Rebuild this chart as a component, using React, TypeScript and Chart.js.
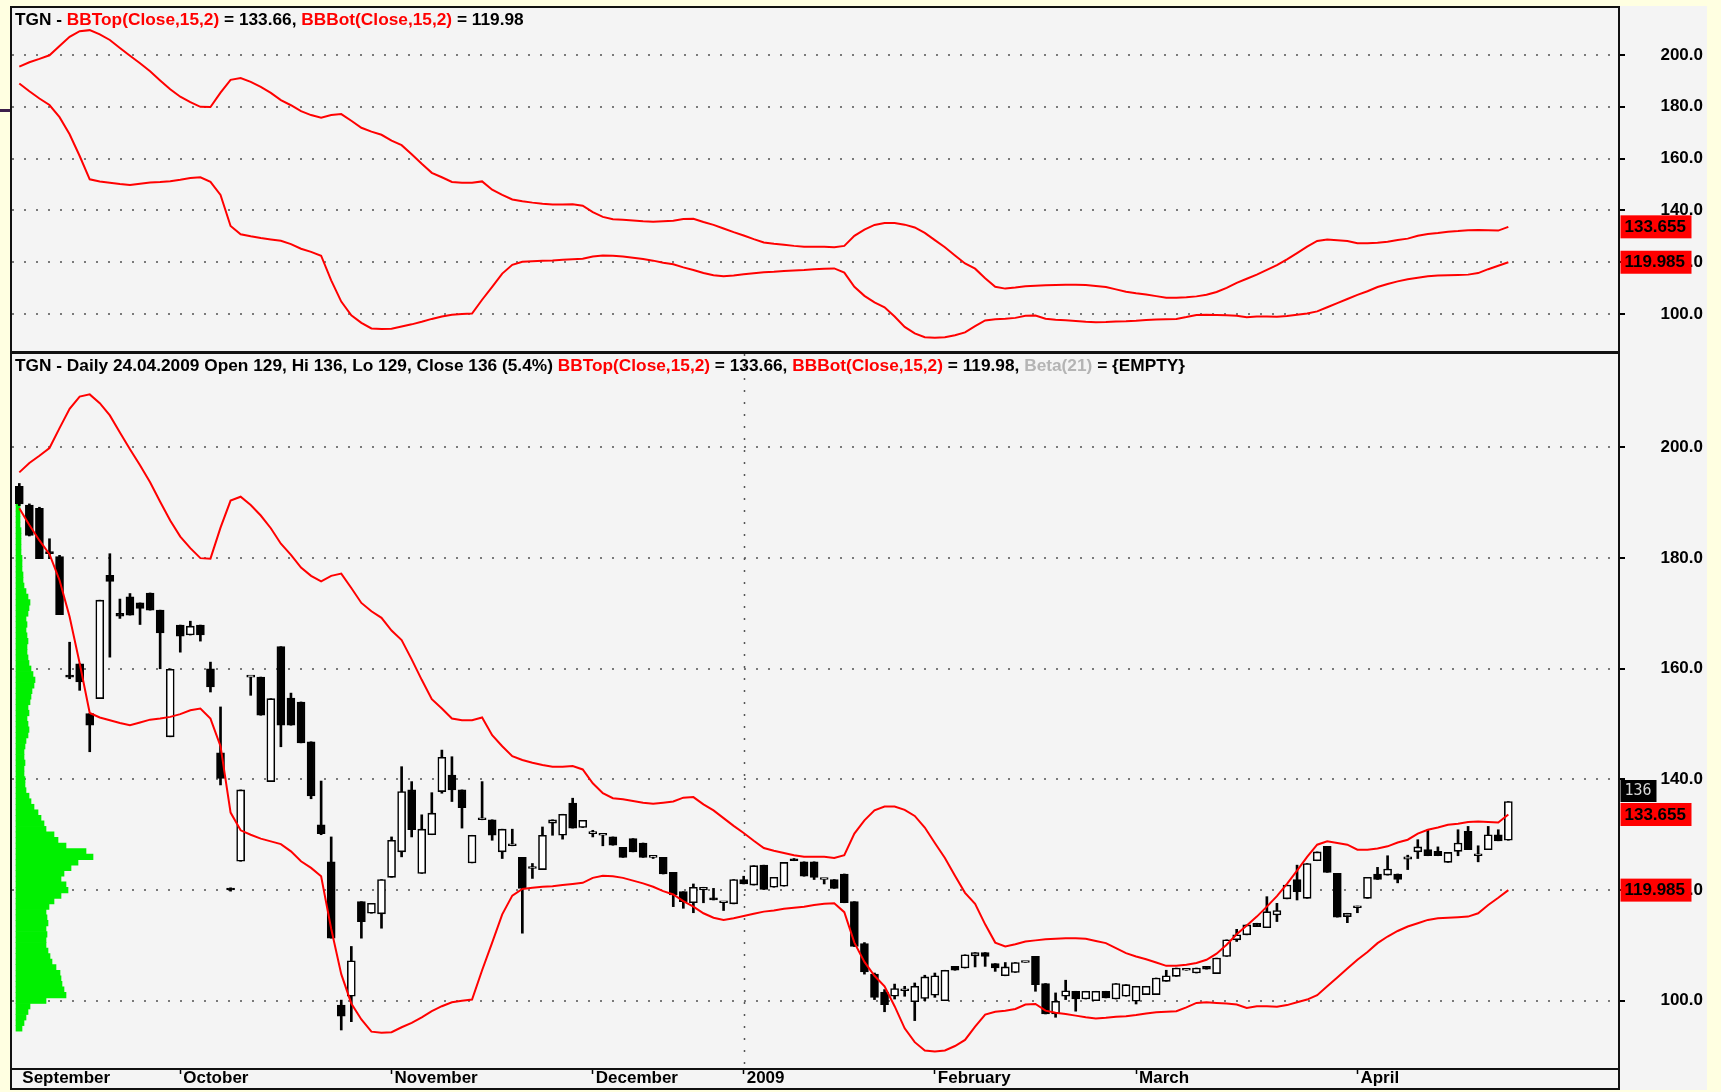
import React, { useEffect, useRef } from 'react';
import { Chart, registerables } from 'chart.js';

Chart.register(...registerables);

const FAM = '"Liberation Sans", Arial, Helvetica, sans-serif';

// ---- daily candles (bar index 0 = first bar in September 2008) ----
const opens = [
  193.0, 189.6, 189.0, 181.1, 180.3, 158.8, 160.9, 151.9, 154.6, 176.9,
  170.0, 173.0, 171.9, 173.7, 170.6, 147.7, 167.9, 166.1, 167.9, 160.0,
  144.8, 120.2, 125.2, 158.5, 158.5, 139.6, 164.0, 154.7, 154.0, 146.8,
  131.8, 125.1, 99.2, 100.8, 117.9, 115.8, 115.7, 122.3, 126.9, 138.1,
  123.0, 130.0, 137.8, 140.8, 138.1, 124.9, 132.7, 132.7, 126.9, 128.0,
  125.9, 123.9, 123.7, 132.1, 129.9, 135.7, 131.3, 130.2, 129.9, 129.6,
  127.7, 129.3, 128.5, 125.9, 125.9, 123.2, 119.7, 117.7, 120.0, 118.6,
  117.7, 117.5, 121.9, 120.9, 124.5, 120.5, 120.7, 125.5, 125.1, 125.1,
  121.9, 121.9, 122.9, 117.9, 110.3, 104.8, 101.5, 100.8, 101.8, 99.8,
  100.4, 101.0, 100.0, 106.2, 105.9, 108.1, 108.7, 106.7, 104.5, 105.1,
  106.9, 108.0, 103.1, 97.6, 100.8, 101.7, 100.3, 100.0, 101.7, 100.3,
  100.8, 99.9, 101.1, 101.1, 103.5, 104.4, 105.5, 105.0, 106.2, 104.9,
  108.0, 111.0, 111.9, 114.0, 113.2, 115.5, 118.4, 121.9, 118.5, 125.3,
  127.9, 123.0, 115.2, 116.8, 118.5, 122.9, 122.7, 122.9, 125.6, 126.9,
  127.3, 127.0, 125.0, 127.0, 130.6, 126.2, 127.3, 130.0, 129.0,
];
const highs = [
  193.5, 189.8, 189.2, 183.5, 180.5, 164.8, 160.9, 151.9, 172.4, 180.8,
  172.6, 173.6, 171.9, 173.7, 170.6, 160.0, 167.9, 168.6, 167.9, 161.2,
  153.1, 120.4, 138.1, 158.5, 158.5, 154.6, 164.0, 155.6, 154.0, 146.8,
  139.7, 129.6, 100.1, 109.8, 117.9, 117.6, 121.9, 129.6, 142.3, 139.6,
  133.6, 137.6, 145.3, 144.1, 138.1, 129.9, 139.6, 132.7, 131.0, 131.0,
  125.9, 124.8, 131.4, 132.7, 133.7, 136.6, 132.6, 130.8, 129.9, 129.6,
  127.7, 129.3, 128.5, 126.1, 125.9, 123.2, 119.7, 121.1, 120.5, 120.3,
  117.7, 121.9, 122.5, 124.4, 124.5, 122.3, 125.0, 125.7, 125.1, 125.1,
  121.9, 121.9, 122.9, 117.9, 110.5, 105.0, 102.0, 103.0, 102.6, 103.2,
  104.6, 105.0, 105.5, 106.2, 108.3, 108.7, 108.7, 106.7, 106.9, 106.9,
  106.9, 108.0, 103.1, 101.4, 103.7, 101.7, 101.7, 101.7, 101.7, 103.1,
  102.9, 102.6, 102.6, 104.1, 105.5, 105.9, 105.5, 105.9, 106.2, 107.7,
  111.0, 112.9, 113.7, 114.0, 118.8, 117.6, 120.9, 124.5, 124.8, 126.9,
  127.9, 123.0, 115.8, 117.1, 122.3, 124.1, 126.2, 122.9, 126.3, 129.1,
  130.9, 127.8, 126.8, 130.9, 131.5, 128.0, 131.5, 130.9, 136.0,
];
const lows = [
  189.5, 184.0, 179.9, 179.9, 169.8, 158.2, 156.1, 145.0, 154.6, 162.1,
  169.1, 169.7, 168.0, 170.6, 160.0, 147.7, 163.0, 166.1, 165.0, 155.8,
  139.0, 119.8, 125.2, 155.2, 151.6, 139.6, 145.9, 149.8, 146.6, 136.5,
  130.0, 111.3, 94.7, 96.2, 111.3, 115.8, 113.1, 122.3, 126.0, 129.6,
  123.0, 130.0, 137.5, 136.0, 131.2, 124.9, 132.7, 129.0, 125.7, 128.0,
  112.2, 122.1, 123.7, 129.9, 129.2, 131.2, 131.3, 129.6, 128.0, 128.1,
  125.9, 126.9, 125.9, 125.7, 122.9, 117.0, 116.7, 115.9, 117.7, 118.2,
  116.3, 117.5, 121.1, 120.9, 120.1, 120.5, 120.7, 125.3, 122.5, 121.9,
  121.1, 120.3, 117.7, 109.8, 104.8, 100.2, 98.0, 100.3, 100.8, 96.4,
  100.0, 100.6, 100.0, 105.5, 105.9, 106.1, 106.2, 105.3, 104.5, 105.1,
  106.9, 101.7, 97.6, 97.0, 100.2, 98.1, 100.3, 100.0, 100.5, 100.3,
  100.8, 99.4, 101.1, 101.1, 103.5, 104.4, 105.5, 105.0, 105.7, 104.9,
  108.0, 110.7, 111.9, 113.4, 113.2, 114.3, 118.4, 118.2, 118.5, 125.3,
  123.2, 115.1, 114.1, 115.9, 118.5, 121.9, 122.7, 121.3, 123.7, 125.7,
  126.2, 126.2, 125.0, 126.2, 127.3, 125.1, 127.3, 128.9, 129.0,
];
const closes = [
  189.8, 184.1, 179.9, 180.8, 169.8, 158.5, 157.6, 149.8, 172.4, 175.8,
  169.5, 169.7, 170.9, 170.6, 166.5, 159.9, 165.9, 167.7, 166.1, 156.7,
  140.2, 120.0, 138.1, 158.5, 151.6, 154.6, 149.8, 149.8, 146.6, 137.0,
  130.2, 111.3, 97.2, 107.2, 114.3, 117.6, 121.9, 129.0, 137.8, 130.9,
  131.0, 133.9, 144.0, 138.1, 134.9, 129.9, 132.7, 129.9, 131.0, 128.0,
  120.3, 123.9, 129.9, 132.7, 133.7, 131.2, 132.6, 130.2, 129.9, 128.1,
  125.9, 126.9, 125.9, 125.9, 122.9, 119.1, 117.9, 120.5, 120.5, 118.2,
  117.7, 121.9, 121.1, 124.4, 120.1, 122.3, 125.0, 125.3, 122.5, 122.3,
  121.9, 120.3, 117.7, 109.8, 105.2, 100.6, 99.3, 102.2, 101.8, 102.6,
  104.3, 104.5, 105.5, 105.5, 108.3, 108.7, 108.0, 105.9, 106.1, 106.9,
  106.9, 102.9, 97.6, 99.9, 101.8, 100.3, 101.7, 101.7, 100.5, 103.1,
  102.9, 102.6, 102.6, 104.1, 104.5, 105.9, 105.5, 105.9, 105.7, 107.7,
  111.0, 111.9, 113.7, 113.4, 116.1, 116.3, 120.9, 119.7, 124.8, 126.9,
  123.2, 115.1, 115.8, 116.8, 122.3, 121.9, 123.8, 121.9, 126.0, 127.8,
  126.2, 126.2, 126.8, 128.5, 127.3, 126.2, 130.0, 128.9, 136.0,
];

// ---- Bollinger bands (Close, 15, 2) read per bar ----
const bbTop = [
  195.5, 197.2, 198.5, 199.9, 203.5, 207.0, 209.2, 209.6, 208.0, 205.8,
  202.7, 199.7, 196.8, 193.7, 190.2, 186.8, 183.9, 181.8, 180.0, 179.9,
  185.5, 190.4, 191.1, 189.6, 187.7, 185.4, 182.6, 180.6, 178.3, 176.8,
  175.8, 176.8, 177.2, 174.6, 171.9, 170.4, 169.2, 166.9, 165.2, 161.7,
  158.0, 154.5, 152.8, 151.0, 150.7, 150.7, 151.2, 148.0, 146.0, 144.2,
  143.5, 143.0, 142.6, 142.3, 142.3, 142.4, 141.8, 139.3, 137.5, 136.6,
  136.4, 136.1, 135.8, 135.6, 135.8, 136.0, 136.7, 136.8, 135.5, 134.4,
  133.0, 131.6, 130.3, 128.9, 127.6, 127.1, 126.7, 126.3, 126.0, 126.0,
  126.0, 125.8, 126.3, 130.2, 132.6, 134.4, 135.1, 135.1, 134.5, 133.4,
  131.3, 128.5, 125.8, 122.6, 119.5, 117.5, 113.8, 110.5, 109.8, 110.2,
  110.7, 110.9, 111.1, 111.2, 111.3, 111.3, 111.2, 110.8, 110.4, 109.5,
  108.6, 108.0, 107.5, 106.9, 106.3, 106.3, 106.5, 106.8, 107.4, 108.5,
  110.1, 112.0, 113.6, 115.2, 117.0, 118.9, 121.1, 123.5, 126.0, 128.2,
  128.8, 128.5, 128.2, 127.3, 127.3, 127.5, 127.9, 128.6, 129.1, 130.2,
  130.9, 131.3, 131.8, 132.0, 132.3, 132.4, 132.3, 132.2, 133.655,
];
const bbBot = [
  189.0, 186.0, 183.2, 180.7, 176.0, 169.4, 161.0, 152.0, 151.2, 150.7,
  150.2, 149.8, 150.3, 150.8, 151.0, 151.3, 151.8, 152.5, 152.8, 151.0,
  146.0, 134.0, 130.8, 130.0, 129.3, 128.8, 128.3, 127.0, 125.2, 124.0,
  122.5, 113.0, 104.8, 99.5, 96.6, 94.4, 94.2, 94.3, 95.2, 96.0,
  97.0, 98.1, 99.0, 99.7, 100.0, 100.2, 105.5, 110.5, 115.6, 119.0,
  120.2, 120.4, 120.6, 120.7, 120.9, 121.1, 121.3, 122.2, 122.6, 122.5,
  122.2, 121.7, 121.2, 120.6, 119.8, 119.2, 118.0, 117.0, 115.8, 115.0,
  114.6, 114.9, 115.3, 115.7, 116.1, 116.3, 116.6, 116.8, 117.0, 117.3,
  117.5, 117.6, 116.0, 110.5, 107.0, 104.5, 102.6, 99.0, 95.0, 92.5,
  91.0, 90.8, 91.0, 91.8, 92.9, 95.3, 97.5, 98.0, 98.2, 98.5,
  99.3, 99.4, 98.2, 97.8, 97.6, 97.3, 97.0, 96.8, 96.9, 97.1,
  97.2, 97.4, 97.7, 97.9, 98.0, 98.1, 98.8, 99.6, 99.7, 99.6,
  99.5, 99.3, 98.7, 99.0, 99.0, 98.9, 99.2, 99.7, 100.2, 101.0,
  102.6, 104.2, 105.8, 107.4, 108.8, 110.4, 111.6, 112.6, 113.4, 114.0,
  114.6, 114.9, 115.0, 115.1, 115.2, 115.8, 117.3, 118.6, 119.985,
];

// ---- volume-at-price profile (green, left side of the price panel) ----
const vpPrices = [
  95, 96, 97, 98, 99, 100, 101, 102, 103, 104, 105, 106, 107, 108, 109, 110,
  111, 112, 113, 114, 115, 116, 117, 118, 119, 120, 121, 122, 123, 124, 125, 126,
  127, 128, 129, 130, 131, 132, 133, 134, 135, 136, 137, 138, 139, 140, 141, 142,
  143, 144, 145, 146, 147, 148, 149, 150, 151, 152, 153, 154, 155, 156, 157, 158,
  159, 160, 161, 162, 163, 164, 165, 166, 167, 168, 169, 170, 171, 172, 173, 174,
  175, 176, 177, 178, 179, 180, 181, 182, 183, 184, 185, 186, 187, 188, 189, 190,
];
const vpVolumes = [
  6, 8, 10, 12, 14, 30, 50, 48, 46, 45, 44, 40, 36, 34, 32, 30,
  30, 31, 30, 32, 31, 30, 33, 38, 45, 52, 50, 45, 48, 55, 62, 77,
  70, 50, 42, 38, 30, 28, 25, 22, 18, 15, 13, 10, 9, 9, 8, 8,
  9, 8, 8, 9, 10, 12, 13, 12, 11, 13, 12, 14, 15, 16, 18, 19,
  17, 15, 13, 12, 11, 11, 12, 11, 10, 11, 10, 12, 13, 14, 12, 10,
  8, 7, 7, 6, 6, 6, 5, 5, 5, 5, 5, 4, 4, 4, 4, 4,
];

// ---- axes ----
const monthTickIdx = [0, 16, 37, 57, 72, 91, 111, 133];
const monthLabels = ['September', 'October', 'November', 'December', '2009', 'February', 'March', 'April'];
const yearLineIdx = 72;
const priceTicks = [100, 120, 140, 160, 180, 200];

const lastClose = 136;
const tagTopText = '133.655';
const tagBotText = '119.985';

const topTitle: [string, string][] = [
  ['TGN - ', '#000'],
  ['BBTop(Close,15,2)', '#ff0000'],
  [' = 133.66, ', '#000'],
  ['BBBot(Close,15,2)', '#ff0000'],
  [' = 119.98', '#000'],
];
const botTitle: [string, string][] = [
  ['TGN - Daily 24.04.2009 Open 129, Hi 136, Lo 129, Close 136 (5.4%) ', '#000'],
  ['BBTop(Close,15,2)', '#ff0000'],
  [' = 133.66, ', '#000'],
  ['BBBot(Close,15,2)', '#ff0000'],
  [' = 119.98, ', '#000'],
  ['Beta(21)', '#b4b4b4'],
  [' = {EMPTY}', '#000'],
];

const X_MIN = -0.7256;
const X_MAX = 158.9;
const TOP_MIN = 85.71;
const TOP_MAX = 218.15;
const BOT_MIN = 87.83;
const BOT_MAX = 216.9;

const idx = closes.map((_, i) => i);

function drawSegments(ctx: CanvasRenderingContext2D, segs: [string, string][], x: number, y: number) {
  ctx.save();
  ctx.font = `bold 17.3px ${FAM}`;
  ctx.textBaseline = 'middle';
  ctx.textAlign = 'left';
  let cx = x;
  for (const [t, c] of segs) {
    ctx.fillStyle = c;
    ctx.fillText(t, cx, y);
    cx += ctx.measureText(t).width;
  }
  ctx.restore();
}

function drawTag(ctx: CanvasRenderingContext2D, x: number, yTop: number, w: number, h: number, bg: string, fg: string, text: string, font: string) {
  ctx.save();
  ctx.fillStyle = bg;
  ctx.fillRect(x, yTop, w, h);
  ctx.fillStyle = fg;
  ctx.font = font;
  ctx.textBaseline = 'middle';
  ctx.textAlign = 'left';
  ctx.fillText(text, x + 4, yTop + h / 2 + 0.5);
  ctx.restore();
}

function drawFrame(chart: any, extraBottom: number) {
  const { ctx, chartArea: ca } = chart;
  ctx.save();
  ctx.strokeStyle = '#111';
  ctx.lineWidth = 2;
  ctx.strokeRect(ca.left - 1, ca.top - 1, ca.right - ca.left + 2, ca.bottom - ca.top + 2);
  if (extraBottom > 0) {
    ctx.beginPath();
    ctx.moveTo(ca.left - 2, ca.bottom + extraBottom);
    ctx.lineTo(ca.right + 2, ca.bottom + extraBottom);
    ctx.moveTo(ca.left - 1, ca.bottom);
    ctx.lineTo(ca.left - 1, ca.bottom + extraBottom);
    ctx.moveTo(ca.right + 1, ca.bottom);
    ctx.lineTo(ca.right + 1, ca.bottom + extraBottom);
    ctx.stroke();
  }
  ctx.restore();
}

function yAxis(min: number, max: number) {
  return {
    type: 'linear',
    position: 'right',
    min,
    max,
    offset: false,
    afterBuildTicks: (s: any) => {
      s.ticks = priceTicks.map((v) => ({ value: v }));
    },
    afterFit: (s: any) => {
      s.width = 85;
      s.paddingTop = 0;
      s.paddingBottom = 0;
    },
    ticks: {
      autoSkip: false,
      crossAlign: 'far',
      padding: 36,
      color: '#000',
      font: { family: FAM, size: 17, weight: 'bold' },
      callback: (v: any) => Number(v).toFixed(1),
    },
    grid: {
      offset: false,
      color: '#7a7a7a',
      lineWidth: 2,
      borderDash: [2, 10],
      drawTicks: true,
      tickLength: 7,
      tickColor: '#000',
      tickWidth: 2,
      tickBorderDash: [],
    },
    border: { display: false, dash: [2, 10] },
  };
}

const bandDatasets = () => [
  {
    type: 'line',
    data: bbTop.map((v, i) => ({ x: i, y: v })),
    borderColor: '#ff0000',
    borderWidth: 2,
    pointRadius: 0,
    order: 0,
  },
  {
    type: 'line',
    data: bbBot.map((v, i) => ({ x: i, y: v })),
    borderColor: '#ff0000',
    borderWidth: 2,
    pointRadius: 0,
    order: 0,
  },
];

export default function App() {
  const topRef = useRef<HTMLCanvasElement>(null);
  const botRef = useRef<HTMLCanvasElement>(null);

  useEffect(() => {
    const common = {
      responsive: false,
      animation: false,
      devicePixelRatio: 1,
      events: [],
      plugins: { legend: { display: false }, tooltip: { enabled: false }, title: { display: false } },
    };

    const topPlugin = {
      id: 'topDecor',
      afterDraw(chart: any) {
        const ctx = chart.ctx;
        drawFrame(chart, 0);
        drawSegments(ctx, topTitle, 15, 20.5);
        const ys = chart.scales.y;
        const font = `bold 17px ${FAM}`;
        drawTag(ctx, 1620.5, ys.getPixelForValue(bbTop[bbTop.length - 1]) - 11.5, 71, 23, '#ff0000', '#000', tagTopText, font);
        drawTag(ctx, 1620.5, ys.getPixelForValue(bbBot[bbBot.length - 1]) - 11.5, 71, 23, '#ff0000', '#000', tagBotText, font);
      },
    };

    const topChart = new Chart(topRef.current as HTMLCanvasElement, {
      type: 'line',
      data: { datasets: bandDatasets() as any },
      options: {
        ...common,
        layout: { padding: { left: 12, top: 8, bottom: 1, right: 18 } },
        scales: {
          x: { type: 'linear', min: X_MIN, max: X_MAX, display: false, offset: false },
          y: yAxis(TOP_MIN, TOP_MAX) as any,
        },
      } as any,
      plugins: [topPlugin],
    });

    const botPlugin = {
      id: 'botDecor',
      beforeDatasetsDraw(chart: any) {
        const { ctx, chartArea: ca } = chart;
        const x = Math.round(chart.scales.x.getPixelForValue(yearLineIdx)) + 0.5;
        ctx.save();
        ctx.strokeStyle = '#555';
        ctx.lineWidth = 1.5;
        ctx.setLineDash([2, 10]);
        ctx.beginPath();
        ctx.moveTo(x, ca.top);
        ctx.lineTo(x, ca.bottom);
        ctx.stroke();
        ctx.restore();
      },
      afterDraw(chart: any) {
        const ctx = chart.ctx;
        drawFrame(chart, 21);
        drawSegments(ctx, botTitle, 15, 14.2);
        const ys = chart.scales.y;
        const font = `bold 17px ${FAM}`;
        const yTopTag = ys.getPixelForValue(bbTop[bbTop.length - 1]) - 11.5;
        drawTag(ctx, 1620.5, yTopTag, 71, 23, '#ff0000', '#000', tagTopText, font);
        drawTag(ctx, 1620.5, ys.getPixelForValue(bbBot[bbBot.length - 1]) - 11.5, 71, 23, '#ff0000', '#000', tagBotText, font);
        const yClose = ys.getPixelForValue(lastClose);
        const bottom = Math.min(yClose + 1, yTopTag - 1);
        drawTag(ctx, 1620.5, bottom - 22, 36, 22, '#000', '#d8d8d8', String(lastClose), `15px "DejaVu Sans Mono", monospace`);
      },
    };

    const botChart = new Chart(botRef.current as HTMLCanvasElement, {
      type: 'bar',
      data: {
        datasets: [
          ...bandDatasets(),
          {
            type: 'bar',
            data: idx.map((i) => ({ x: i, y: [opens[i], closes[i]] })),
            backgroundColor: idx.map((i) => (closes[i] >= opens[i] ? '#ffffff' : '#000000')),
            borderColor: '#000',
            borderWidth: 1.6,
            borderSkipped: false,
            barThickness: 8,
            minBarLength: 2,
            grouped: false,
            xAxisID: 'x',
            yAxisID: 'y',
            order: 1,
          },
          {
            type: 'bar',
            data: idx.map((i) => ({ x: i, y: [lows[i], highs[i]] })),
            backgroundColor: '#000',
            barThickness: 2,
            grouped: false,
            xAxisID: 'x',
            yAxisID: 'y',
            order: 2,
          },
          {
            type: 'bar',
            indexAxis: 'y',
            data: vpPrices.map((p, i) => ({ x: vpVolumes[i], y: p })),
            backgroundColor: '#00f000',
            barThickness: 5.6,
            grouped: false,
            xAxisID: 'xv',
            yAxisID: 'y',
            order: 3,
          },
        ] as any,
      },
      options: {
        ...common,
        layout: { padding: { left: 12, top: 2, bottom: 2, right: 18 } },
        scales: {
          x: {
            type: 'linear',
            position: 'bottom',
            min: X_MIN,
            max: X_MAX,
            offset: false,
            afterBuildTicks: (s: any) => {
              s.ticks = monthTickIdx.map((v) => ({ value: v }));
            },
            afterFit: (s: any) => {
              s.height = 22;
              s.paddingLeft = 0;
              s.paddingRight = 0;
            },
            ticks: {
              autoSkip: false,
              maxRotation: 0,
              minRotation: 0,
              align: 'start',
              labelOffset: 3,
              padding: -4,
              color: '#000',
              font: { family: FAM, size: 17, weight: 'bold', lineHeight: 1 },
              callback: (_v: any, i: number) => monthLabels[i],
            },
            grid: {
              offset: false,
              drawOnChartArea: false,
              drawTicks: true,
              tickLength: 6,
              tickWidth: 1.5,
              tickColor: (c: any) => (c.index === 0 ? 'rgba(0,0,0,0)' : '#000'),
            },
            border: { display: false },
          },
          xv: { type: 'linear', axis: 'x', display: false, min: -4, max: 1602, offset: false },
          y: yAxis(BOT_MIN, BOT_MAX) as any,
        },
      } as any,
      plugins: [botPlugin],
    });

    return () => {
      topChart.destroy();
      botChart.destroy();
    };
  }, []);

  return (
    <div style={{ position: 'fixed', left: 0, top: 0, width: 1721, height: 1092, background: '#FFFFE1', overflow: 'hidden' }}>
      <div style={{ position: 'absolute', left: 10, top: 6, width: 1697, height: 1084, background: '#F4F4F4' }} />
      <div style={{ position: 'absolute', left: 0, top: 109, width: 11, height: 3, background: '#3c1f4b' }} />
      <canvas ref={topRef} width={1721} height={352} style={{ position: 'absolute', left: 0, top: 0, width: 1721, height: 352 }} />
      <canvas ref={botRef} width={1721} height={740} style={{ position: 'absolute', left: 0, top: 352, width: 1721, height: 740 }} />
    </div>
  );
}
